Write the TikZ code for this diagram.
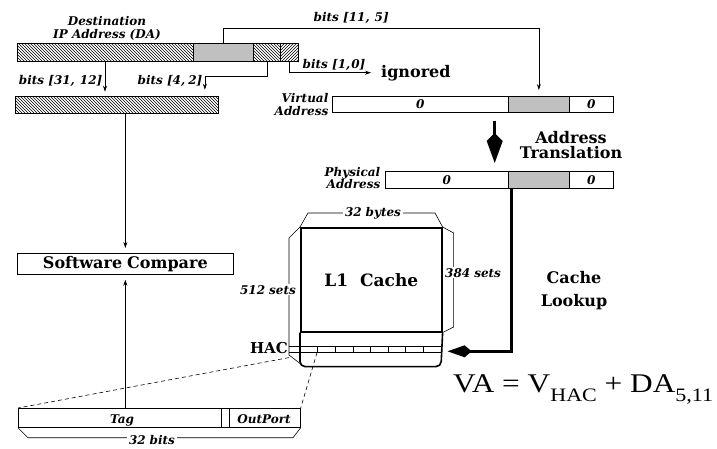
\documentclass[tikz,border=0pt]{standalone}
\usepackage{fontspec}
\setmainfont{Liberation Serif}
\newfontfamily\dvs{DejaVu Serif}
\usetikzlibrary{arrows.meta,patterns}
\definecolor{shade}{RGB}{192,192,192}
\begin{document}
\begin{tikzpicture}[x=1pt,y=-1pt,
  seg/.style={draw, line width=0.7, inner sep=0, anchor=north west},
  lbl/.style={font=\dvs\bfseries\itshape\fontsize{12}{13}\selectfont, inner sep=0.5},
  bl/.style={font=\dvs\bfseries\fontsize{16}{16}\selectfont, inner sep=0},
  arr/.style={line width=0.6, -{Stealth[length=6pt,width=4pt]}},
  bigarr/.style={line width=3pt, -{Kite[length=30pt,width=16pt,inset=8pt]}},
  lookarr/.style={line width=3pt, -{Kite[length=24pt,width=12pt,inset=7pt]}},
  dim/.style={line width=0.6},
  wlbl/.style={lbl, fill=white, inner xsep=2pt, inner ysep=1pt}]
\useasboundingbox (0,0) rectangle (717,448);

% Destination IP address
\node[lbl, anchor=base] (dest1) at (107,25) {Destination};
\node[lbl, anchor=base] (dest2) at (107,38) {IP Address (DA)};
\node[seg, pattern=north west lines, minimum width=176, minimum height=18] (DAhi) at (17,43) {};
\node[seg, fill=shade, minimum width=60, minimum height=18] (DAmid) at (193,43) {};
\node[seg, pattern=north west lines, minimum width=27, minimum height=18] (DAlo) at (253,43) {};
\node[seg, pattern=north east lines, minimum width=18, minimum height=18] (DAig) at (280,43) {};

% high bits bar
\node[seg, pattern=north west lines, minimum width=203, minimum height=17] (hi) at (15,96) {};

\node[lbl, anchor=base east] (b31) at (103,84) {bits [31,\hspace{5pt}12]};
\node[lbl, anchor=base east] (b42) at (203,84) {bits [4,\hspace{3pt}2]};
\node[lbl, anchor=base west] (b115) at (313,21) {bits [11,\hspace{5pt}5]};
\node[lbl, anchor=base west] (b10) at (302,68) {bits [1,\hspace{1pt}0]};
\node[bl, anchor=base west] (ign) at (381,77) {ignored};

% Virtual address
\node[seg, lbl, inner sep=0, minimum width=176, minimum height=16] (VA0) at (332,96) {0};
\node[seg, fill=shade, minimum width=61, minimum height=16] (VAg) at (508,96) {};
\node[seg, lbl, inner sep=0, minimum width=44, minimum height=16] (VAr) at (569,96) {0};
\node[lbl, anchor=base east] (va1) at (329,102) {Virtual};
\node[lbl, anchor=base east] (va2) at (329,115) {Address};

% Physical address
\node[seg, lbl, inner sep=0, minimum width=123, minimum height=17] (PA0) at (385,171) {0};
\node[seg, fill=shade, minimum width=61, minimum height=17] (PAg) at (508,171) {};
\node[seg, lbl, inner sep=0, minimum width=44, minimum height=17] (PAr) at (569,171) {0};
\node[lbl, anchor=base east] (pa1) at (381,176) {Physical};
\node[lbl, anchor=base east] (pa2) at (381,188) {Address};

\node[bl, anchor=base] (at1) at (571,143) {Address};
\node[bl, anchor=base] (at2) at (571,158) {Translation};

% connectors top
\draw[arr] ([xshift=88]DAhi.south west) -- ++(0,30);
\draw[arr] (DAlo.south) -- ++(0,15) -| ++(-62,13);
\draw[arr] (DAmid.north) -- ++(0,-15) -| ([yshift=6]VAg.north);
\draw[arr] (DAig.south) |- ([xshift=-10]ign.west);
\draw[bigarr, shorten <=8pt, shorten >=8pt] ([xshift=-14]VA0.south east) -- ([xshift=-14]PA0.north east);

% Software compare
\node[seg, bl, minimum width=216, minimum height=21] (SC) at (17,253) {Software\hspace{5pt}Compare};
\draw[arr] (SC.north |- hi.south) -- ([yshift=5]SC.north);

% Cache
\node[draw, line width=0.6, inner sep=0, anchor=north west, minimum width=141, minimum height=6] (hac) at (300,346) {};
\foreach \i in {1,...,7} \draw[line width=0.6] ([xshift=\i*17.6]hac.north west) -- ([xshift=\i*17.6]hac.south west);
\draw[line width=0.6] (hac.north west) -- ++(-11,0);
\draw[line width=0.6] (hac.south west) -- ++(-11,0);
\node[draw, line width=1.6, inner sep=0, anchor=north west, minimum width=141, minimum height=104,
      font=\dvs\bfseries\fontsize{17}{17}\selectfont] (L1) at (300,227) {L1\hspace{12pt}Cache};
\draw[line width=1.6, rounded corners=5] (L1.south west) -- ++(0,34) -- ++(141,0) -- (L1.south east);

\draw[dim] (L1.north west) -- ++(8,-14) -- ++(127,0) -- (L1.north east);
\node[wlbl, anchor=base] (bytes) at (373,216) {32\hspace{4pt}bytes};
\draw[dim] (L1.north east) -- ++(11,6) -- ++(0,94) -- (L1.south east);
\node[wlbl, anchor=base west] (s384) at (443,277) {384\hspace{4pt}sets};
\draw[dim] (L1.north west) -- ++(-11,11) -- ++(0,117) -- ++(13,10);
\node[wlbl, anchor=base east] (s512) at (298,294) {512\hspace{4pt}sets};
\node[bl, anchor=base east, font=\dvs\bfseries\fontsize{15}{15}\selectfont] (hacl) at (288,353) {HAC};

\node[bl, anchor=base] (cl1) at (574,283) {Cache};
\node[bl, anchor=base] (cl2) at (574,306) {Lookup};

\draw[lookarr] ([xshift=3]PAg.south west) |- ([xshift=6,yshift=-2]hac.east);

% Tag entry
\node[seg, minimum width=282, minimum height=19] (tag) at (18,408) {};
\draw[line width=0.6] ([xshift=203]tag.north west) -- ([xshift=203]tag.south west);
\draw[line width=0.6] ([xshift=211]tag.north west) -- ([xshift=211]tag.south west);
\node[lbl, anchor=base] (tagt) at (122,423) {Tag};
\node[lbl, anchor=base] (outp) at (264,423) {OutPort};
\draw[dim] (tag.south west) -- ++(10,10) -- ++(265,0) -- (tag.south east);
\node[wlbl, anchor=base] (bits32) at (152,444) {32\hspace{4pt}bits};
\draw[arr] (SC.south |- tag.north) -- ([yshift=-5]SC.south);

\draw[dim, dash pattern=on 4pt off 3pt] ([xshift=-11,yshift=-5]hac.south west) -- (tag.north west);
\draw[dim, dash pattern=on 4pt off 3pt] ([xshift=17]hac.south west) -- (tag.north east);

% equation
\node[anchor=base west, inner sep=0, font=\fontsize{27}{30}\selectfont] (eq) at (453,392)
  {\scalebox{1.16}[1]{VA = V\raisebox{-9.5pt}{\fontsize{19}{20}\selectfont HAC} + DA\raisebox{-9.5pt}{\fontsize{19}{20}\selectfont 5,11}}};
\end{tikzpicture}
\end{document}
